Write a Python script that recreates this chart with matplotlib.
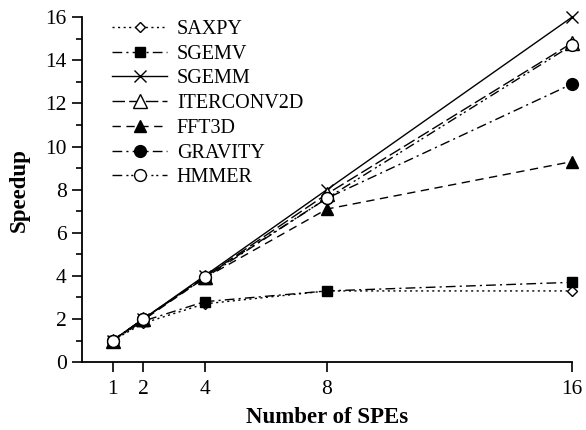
import matplotlib
matplotlib.use("Agg")
import matplotlib.pyplot as plt
from matplotlib.ticker import MultipleLocator

plt.rcParams['font.family'] = ['Liberation Serif', 'DejaVu Serif']

# data
spes = [1, 2, 4, 8, 16]
saxpy = [1.0, 1.8, 2.7, 3.3, 3.3]
sgemv = [1.0, 1.9, 2.8, 3.3, 3.7]
sgemm = [1.0, 2.0, 4.0, 8.0, 16.0]
iterconv2d = [1.0, 2.0, 3.95, 7.8, 14.8]
fft3d = [1.0, 1.95, 3.9, 7.1, 9.3]
gravity = [1.0, 2.0, 3.9, 7.6, 12.9]
hmmer = [1.0, 2.0, 3.95, 7.6, 14.7]

fig = plt.figure(figsize=(5.86, 4.30), dpi=100)
ax = fig.add_axes([0.14, 0.158, 0.836, 0.802])

series = [
    ("SAXPY", saxpy, dict(marker='D', mfc='white', ms=5.5, dashes=(1.5, 2.5))),
    ("SGEMV", sgemv, dict(marker='s', mfc='black', ms=7.5, dashes=(7, 3, 1.5, 3))),
    ("SGEMM", sgemm, dict(marker='x', mfc='black', ms=8.5, mew=1.0, linestyle='-')),
    ("ITERCONV2D", iterconv2d, dict(marker='^', mfc='white', ms=10.5, dashes=(9, 3))),
    ("FFT3D", fft3d, dict(marker='^', mfc='black', ms=8, dashes=(6, 4))),
    ("GRAVITY", gravity, dict(marker='o', mfc='black', ms=8.5, dashes=(7, 3, 1.5, 3))),
    ("HMMER", hmmer, dict(marker='o', mfc='white', ms=8.5, dashes=(7, 3, 1.5, 2, 1.5, 3))),
]

for name, vals, kw in series:
    ax.plot(spes, vals, color='black', mec='black', lw=1.0, label=name,
            clip_on=False, **kw)

ax.set_xlim(0, 16)
ax.set_ylim(0, 16)
ax.set_xticks(spes)
ax.yaxis.set_major_locator(MultipleLocator(2))
ax.yaxis.set_minor_locator(MultipleLocator(1))

for s in ['top', 'right']:
    ax.spines[s].set_visible(False)
ax.spines['left'].set_linewidth(1.3)
ax.spines['bottom'].set_linewidth(1.3)
ax.tick_params(axis='both', which='major', direction='out', length=7, width=1.2,
               labelsize=15.5, pad=4)
ax.tick_params(axis='x', which='major', pad=6)
ax.tick_params(axis='y', which='minor', direction='out', length=4, width=1.2)

ax.set_xlabel('Number of SPEs', fontsize=16.5, fontweight='bold', labelpad=6)
ax.set_ylabel('Speedup', fontsize=16.5, fontweight='bold', labelpad=11)

ax.legend(loc='upper left', bbox_to_anchor=(0.025, 1.045), frameon=False,
          fontsize=14.5, handlelength=2.7, handletextpad=0.5, labelspacing=0.28)

fig.savefig('out.png', dpi=100)
